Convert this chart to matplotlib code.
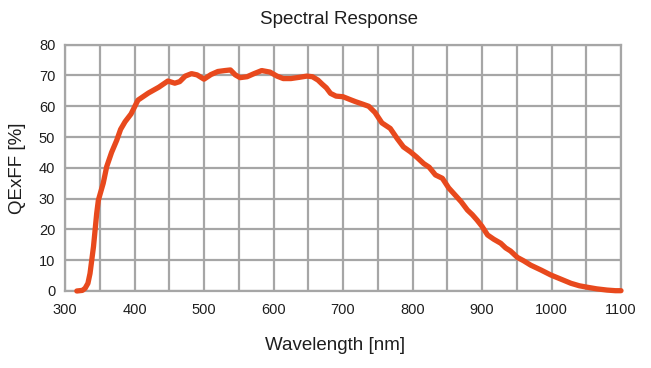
import matplotlib
matplotlib.use("Agg")
import matplotlib.pyplot as plt
from matplotlib.ticker import MultipleLocator

# values
wavelength = [317, 325, 329, 333, 336, 341, 345.6, 348, 355, 360, 367, 374.5, 380, 386.5, 395,
              405, 420, 435, 448, 458, 465, 473, 482, 490, 500, 510, 520, 530, 538, 545,
              552, 562, 572, 583, 595, 605, 614, 625, 637, 648, 656, 664, 670, 676, 682,
              690, 700, 710, 718, 727, 737, 746, 756, 768, 778, 787, 797, 806, 816, 824,
              833, 843, 852, 860, 870, 879, 886, 893, 900, 908, 917, 927, 934, 941, 951,
              960, 970, 985, 999, 1013, 1028, 1040, 1052, 1065, 1080, 1092, 1100]
qe = [0.0, 0.2, 0.9, 2.5, 5.7, 14.4, 25.2, 29.5, 35.0, 40.4, 45.0, 49.0, 52.5, 55.0, 57.5,
      62.0, 64.3, 66.2, 68.2, 67.5, 68.0, 69.8, 70.6, 70.2, 68.8, 70.3, 71.3, 71.6, 71.8, 70.2,
      69.3, 69.6, 70.6, 71.6, 71.1, 69.8, 69.0, 69.0, 69.4, 69.8, 69.6, 68.5, 67.2, 66.0, 64.2,
      63.3, 63.1, 62.2, 61.5, 60.8, 60.0, 58.0, 54.6, 52.8, 49.5, 46.8, 45.2, 43.5, 41.4, 40.2,
      37.7, 36.6, 33.5, 31.5, 29.0, 26.3, 24.8, 23.0, 21.0, 18.2, 16.8, 15.5, 14.0, 13.0, 10.9,
      9.8, 8.4, 6.8, 5.2, 3.9, 2.5, 1.7, 1.2, 0.7, 0.3, 0.1, 0.1]

line_color = "#e8491d"
grid_color = "#a6a6a6"
text_color = "#1e1e1e"

plt.rcParams["font.family"] = ["Liberation Sans", "DejaVu Sans"]

fig = plt.figure(figsize=(6.51, 3.68), dpi=100)
ax = fig.add_axes([65 / 651, 1 - 291 / 368, 556 / 651, (291 - 44.7) / 368])

ax.plot(wavelength, qe, color=line_color, lw=3.8, solid_capstyle="round",
        solid_joinstyle="round", clip_on=False, zorder=3)

ax.set_xlim(300, 1100)
ax.set_ylim(0, 80)
ax.xaxis.set_major_locator(MultipleLocator(100))
ax.xaxis.set_minor_locator(MultipleLocator(50))
ax.yaxis.set_major_locator(MultipleLocator(10))
ax.grid(True, which="both", color=grid_color, lw=1.6)
ax.set_axisbelow(True)
ax.tick_params(which="both", length=0, labelsize=10.5, colors=text_color)
ax.tick_params(axis="x", pad=9)
ax.tick_params(axis="y", pad=7)
for s in ax.spines.values():
    s.set_color(grid_color)
    s.set_linewidth(1.6)

fig.text(339 / 651, 1 - 20 / 368, "Spectral Response", fontsize=13.5,
         color=text_color, ha="center", va="center")
ax.set_xlabel("Wavelength [nm]", fontsize=13.5, color=text_color, labelpad=12)
ax.xaxis.set_label_coords((335 - 65) / 556, -(345 - 291) / 246.3, transform=ax.transAxes)
ax.xaxis.label.set_va("center")
ax.set_ylabel("QExFF [%]", fontsize=13.5, color=text_color)
ax.yaxis.set_label_coords(-(65 - 18) / 556, 0.5, transform=ax.transAxes)
ax.yaxis.label.set_va("center")

fig.savefig("out.png", dpi=100)
